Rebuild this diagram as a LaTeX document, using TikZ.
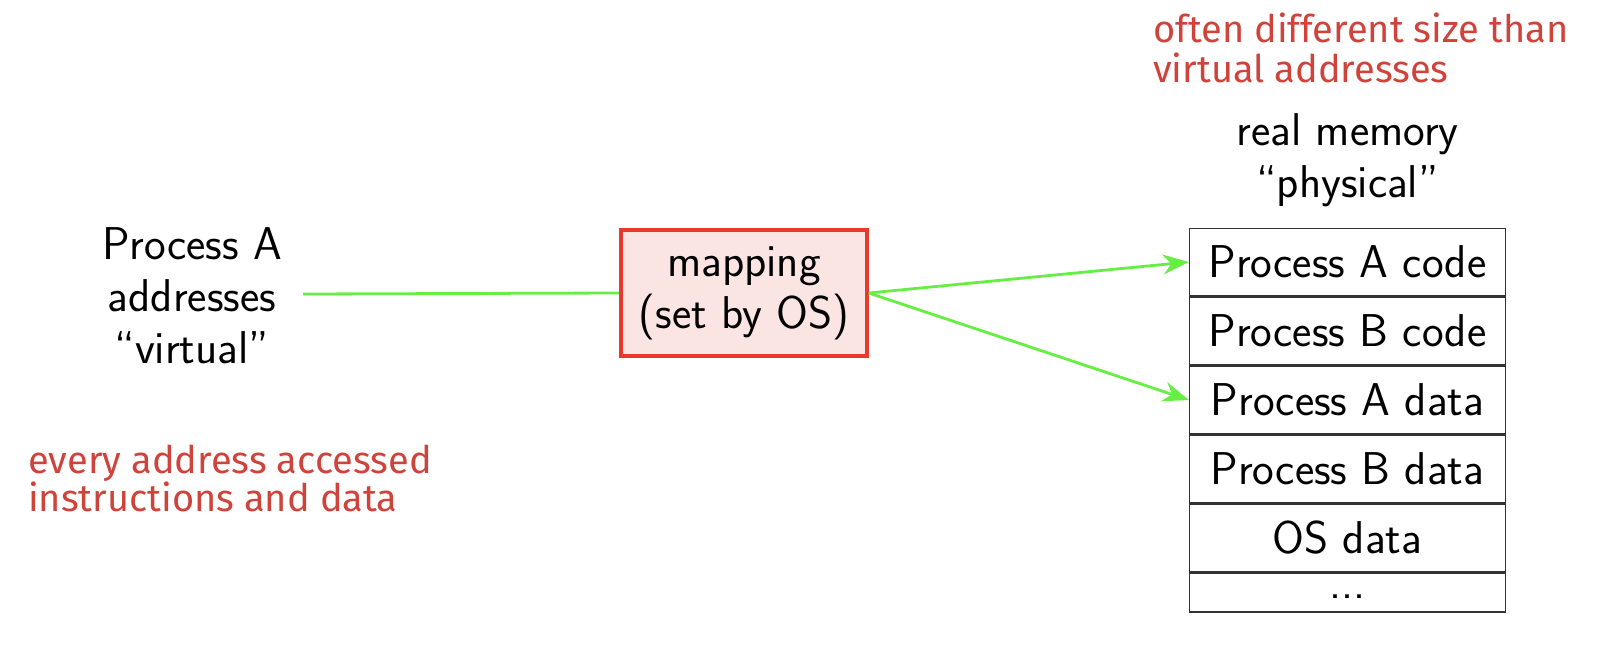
\documentclass[tikz,border=0pt]{standalone}
\usepackage{fontspec}
\newfontfamily\hand{Fira Sans}
\usetikzlibrary{arrows.meta}
\definecolor{grn}{HTML}{66EE44}
\definecolor{mapred}{HTML}{E8392D}
\definecolor{mapfill}{HTML}{FBE5E3}
\definecolor{note}{HTML}{D0433A}
\tikzset{
  big/.style={font=\sffamily\fontsize{46}{52}\selectfont, align=center, inner sep=0pt},
  notetext/.style={font=\hand\fontsize{38}{41}\selectfont, text=note, inner sep=0pt, anchor=base west},
  memrow/.style={draw=black!80, line width=1.3pt, minimum width=316pt, minimum height=67.7pt, inner sep=0pt, font=\sffamily\fontsize{46}{52}\selectfont},
  maparrow/.style={draw=grn, line width=2.8pt, -{Stealth[length=26pt,width=20pt]}},
}
\begin{document}
\begin{tikzpicture}[x=1pt,y=-1pt]
\useasboundingbox (0,0) rectangle (1604,646);
\node[big] (proc) at (192,296) {Process A\\addresses\\“virtual”};
\coordinate (procend) at (303,294);
\node[big, draw=mapred, fill=mapfill, line width=3.6pt, minimum width=246pt, minimum height=126pt] (map) at (744,293) {mapping\\(set by OS)};
\node[big] (real) at (1347.5,160) {real memory\\“physical”};
\node[memrow] (r1) at (1347.5,262) {Process A code};
\node[memrow, anchor=north] (r2) at (r1.south) {Process B code};
\node[memrow, anchor=north] (r3) at (r2.south) {Process A data};
\node[memrow, anchor=north] (r4) at (r3.south) {Process B data};
\node[memrow, anchor=north] (r5) at (r4.south) {OS data};
\node[memrow, anchor=north, minimum height=38.7pt, text height=12pt, text depth=0pt] (r6) at (r5.south) {...};
\draw[draw=grn, line width=2.8pt] (procend) -- (map.west);
\draw[maparrow] (map.east) -- (r1.west);
\draw[maparrow] (map.east) -- (r3.west);
\node[notetext] (n1a) at (1153,42) {often different size than};
\node[notetext] (n1b) at (1153,82) {virtual addresses};
\node[notetext] (n2a) at (28,473) {every address accessed};
\node[notetext] (n2b) at (28,511) {instructions and data};
\end{tikzpicture}
\end{document}
